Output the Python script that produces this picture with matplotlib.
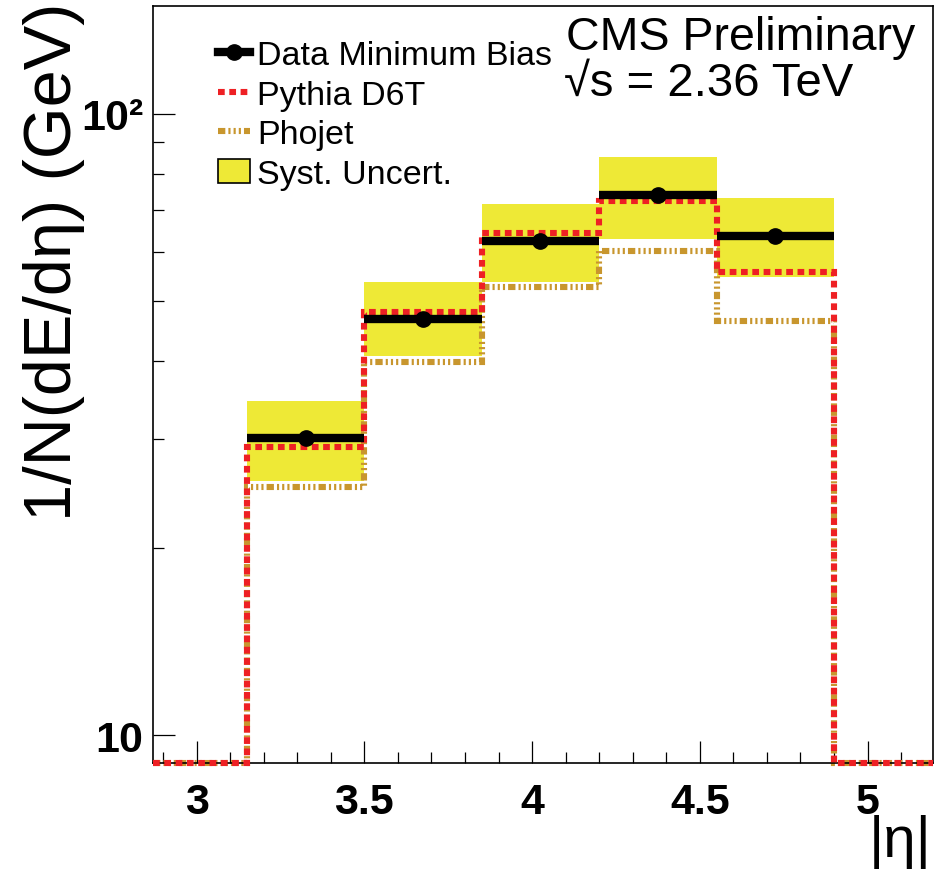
import numpy as np
import matplotlib
matplotlib.use('Agg')
import matplotlib.pyplot as plt
from matplotlib.lines import Line2D
from matplotlib.patches import Patch

plt.rcParams['font.family'] = ['Liberation Sans', 'DejaVu Sans']

# eta bins (HF) and per-bin values
edges = [3.15, 3.50, 3.85, 4.20, 4.55, 4.90]
data = [30.1, 46.8, 62.4, 74.1, 63.6]
syst_hi = [34.5, 53.6, 71.6, 85.2, 73.2]
syst_lo = [25.6, 40.8, 53.6, 62.9, 54.6]
pythia = [29.1, 48.0, 64.3, 72.4, 55.7]
phojet = [25.1, 39.9, 52.7, 60.2, 46.4]

xlim = (2.87, 5.195)
ylim = (9.02, 149.0)

yellow = '#eee936'
red = '#ee2024'
tan = '#c8962e'

edges = np.array(edges)
centers = 0.5 * (edges[1:] + edges[:-1])
widths = edges[1:] - edges[:-1]

fig = plt.figure(figsize=(9.43, 8.79), dpi=100)
ax = fig.add_axes([153/943, 1-764/879, (933-153)/943, (764-7)/879])
ax.set_yscale('log')
ax.set_xlim(*xlim)
ax.set_ylim(*ylim)

# systematic band
ax.bar(centers, np.array(syst_hi) - np.array(syst_lo), bottom=syst_lo,
       width=widths, color=yellow, lw=0, zorder=1)

# empty bins sit on the bottom of the log axis
full_edges = np.concatenate([[xlim[0]], edges, [xlim[1]]])
lw = 4.4
pho_dash = (0, (1.2, 0.5, 0.35, 0.5, 0.35, 0.5, 0.35, 0.5))
pyt_dash = (0, (1.1, 0.75))
ax.stairs([ylim[0]] + phojet + [ylim[0]], full_edges, baseline=None,
          color=tan, lw=lw, linestyle=pho_dash, zorder=2, clip_on=False)
ax.stairs([ylim[0]] + pythia + [ylim[0]], full_edges, baseline=None,
          color=red, lw=lw, linestyle=pyt_dash, zorder=3, clip_on=False)

ax.errorbar(centers, data, xerr=widths / 2, fmt='o', color='black',
            ms=11, elinewidth=6, capsize=0, zorder=4)

# ticks
ax.set_xticks([3, 3.5, 4, 4.5, 5])
ax.set_xticklabels(['3', '3.5', '4', '4.5', '5'])
ax.set_xticks(np.arange(2.9, 5.2, 0.1), minor=True)
ax.set_yticks([10, 100])
ax.set_yticklabels(['10', '10²'])
ax.set_yticks([20, 30, 40, 50, 60, 70, 80, 90], minor=True)
ax.set_yticklabels([], minor=True)
ax.tick_params(which='both', direction='in', width=0.9, top=False, right=False)
ax.tick_params(which='major', length=16)
ax.tick_params(which='minor', length=8)
ax.tick_params(axis='x', pad=14, labelsize=31)
ax.tick_params(axis='y', pad=7, labelsize=31)
for t in ax.get_xticklabels() + ax.get_yticklabels():
    t.set_fontweight('bold')
for s in ax.spines.values():
    s.set_linewidth(1.2)

fig.text(54/943, 1 - 3/879, '1/N(dE/dη) (GeV)', rotation=90,
         ha='center', va='top', fontsize=48)
fig.text(932/943, 1 - 815/879, '|η|', ha='right', va='top', fontsize=42)

ax.text(0.530, 0.988, 'CMS Preliminary', transform=ax.transAxes,
        ha='left', va='top', fontsize=33.5)
ax.text(0.527, 0.927, '√s = 2.36 TeV', transform=ax.transAxes,
        ha='left', va='top', fontsize=34)

handles = [
    Line2D([], [], color='black', lw=6, marker='o', ms=11),
    Line2D([], [], color=red, lw=lw, linestyle=pyt_dash),
    Line2D([], [], color=tan, lw=lw, linestyle=pho_dash),
    Patch(facecolor=yellow, edgecolor='black', lw=1.2),
]
labels = ['Data Minimum Bias', 'Pythia D6T', 'Phojet', 'Syst. Uncert.']
ax.legend(handles, labels, loc='upper left', bbox_to_anchor=(0.083, 0.955),
          frameon=False, fontsize=24.5, handlelength=0.95, handletextpad=0.2,
          labelspacing=0.25, borderpad=0, borderaxespad=0)

fig.savefig('out.png', dpi=100)
